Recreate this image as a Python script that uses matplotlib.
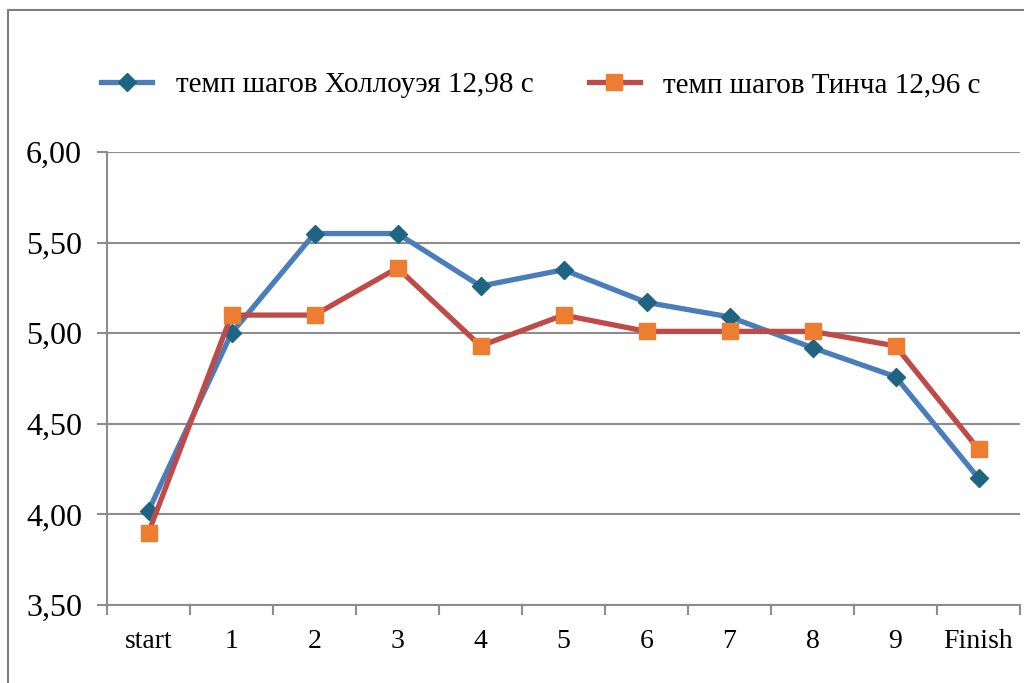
import matplotlib
matplotlib.use('Agg')
import matplotlib.pyplot as plt
from matplotlib.patches import Rectangle

# Split labels and step tempo values
splits = ['start', '1', '2', '3', '4', '5', '6', '7', '8', '9', 'Finish']
holloway = [4.02, 5.00, 5.55, 5.55, 5.26, 5.35, 5.17, 5.09, 4.92, 4.76, 4.20]
tinch = [3.90, 5.10, 5.10, 5.36, 4.93, 5.10, 5.01, 5.01, 5.01, 4.93, 4.36]
y_ticks = [3.5, 4.0, 4.5, 5.0, 5.5, 6.0]
label_holloway = 'темп шагов Холлоуэя 12,98 с'
label_tinch = 'темп шагов Тинча 12,96 с'

plt.rcParams['font.family'] = ['Liberation Serif', 'DejaVu Serif']

fig = plt.figure(figsize=(10.24, 6.83), dpi=100)
ax = fig.add_axes([107 / 1024, 1 - 605 / 683, 913 / 1024, 453 / 683])

x = list(range(len(splits)))
ax.plot(x, holloway, color='#4A7EBB', linewidth=3.8, marker='D', markersize=9,
        markerfacecolor='#1F6482', markeredgecolor='#1F6482', label=label_holloway, zorder=3)
ax.plot(x, tinch, color='#BE4B48', linewidth=3.8, marker='s', markersize=12,
        markerfacecolor='#ED7D31', markeredgecolor='#ED7D31', label=label_tinch, zorder=3)

ax.set_xlim(-0.5, len(splits) - 0.5)
ax.set_ylim(3.5, 6.0)
ax.set_yticks(y_ticks)
ax.set_yticklabels([f'{v:.2f}'.replace('.', ',') for v in y_ticks], fontsize=23)
ax.yaxis.grid(True, color='#8C8C8C', linewidth=1.5)
ax.set_axisbelow(True)

# category labels between boundary ticks
ax.set_xticks([i - 0.5 for i in range(len(splits) + 1)])
ax.set_xticklabels([])
ax.set_xticks(x, minor=True)
ax.set_xticklabels(splits, minor=True, fontsize=20)
ax.tick_params(axis='x', which='major', length=7, width=1.5, color='#8C8C8C', direction='out')
ax.tick_params(axis='x', which='minor', length=0, pad=17)
ax.tick_params(axis='y', length=7, width=1.5, color='#8C8C8C', pad=11)

for side in ['top', 'right']:
    ax.spines[side].set_visible(False)
for side in ['left', 'bottom']:
    ax.spines[side].set_color('#8C8C8C')
    ax.spines[side].set_linewidth(1.5)

ax.legend(loc='center', bbox_to_anchor=(541 / 1024, (683 - 85) / 683), bbox_transform=fig.transFigure,
          ncol=2, frameon=False, fontsize=21, handlelength=1.75, columnspacing=1.9,
          handletextpad=0.8)

# outer chart frame
fig.patches.append(Rectangle((8 / 1024, -0.05), 1.2, 1 - 10 / 683 + 0.05,
                             transform=fig.transFigure, fill=False,
                             edgecolor='#7F7F7F', linewidth=1.5))

plt.savefig('out.png', dpi=100)
